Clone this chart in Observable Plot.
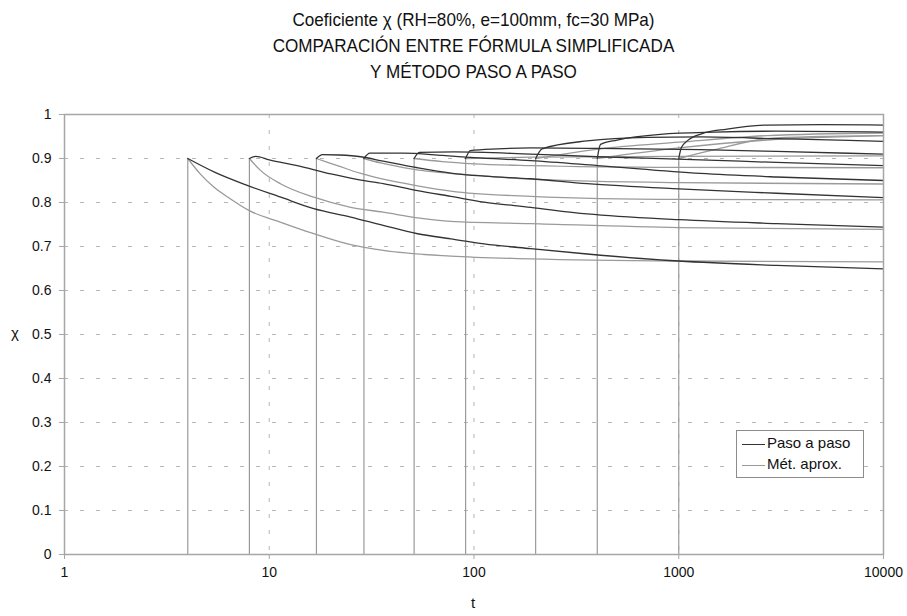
<!DOCTYPE html>
<html>
<head>
<meta charset="utf-8">
<script src="https://cdn.jsdelivr.net/npm/d3@7"></script>
<script src="https://cdn.jsdelivr.net/npm/@observablehq/plot@0.6"></script>
<style>
  body { margin: 0; background: #fff; font-family: "Liberation Sans", Arial, sans-serif; color: #111; }
  #wrap { position: relative; width: 907px; height: 616px; overflow: hidden; }
  #title { position: absolute; left: 64px; width: 819px; top: 7px; text-align: center; font-size: 19px; line-height: 26px; transform: scaleX(0.9); transform-origin: 50% 0; }
  #chart { position: absolute; left: 0; top: 90px; }
  #xlab { position: absolute; left: 463px; width: 20px; top: 594px; text-align: center; font-size: 15px; }
  #ylab { position: absolute; left: 11px; top: 324px; font-size: 15px; }
  #legend { position: absolute; left: 736px; top: 430px; width: 126px; height: 46px; border: 1px solid #8c8c8c; background: #fff; font-size: 15px; }
  .row { position: absolute; left: 5px; height: 20px; line-height: 20px; white-space: nowrap; }
  .sw { display: inline-block; width: 23px; height: 0; border-top: 1.3px solid #333; vertical-align: middle; margin-right: 2px; }
</style>
</head>
<body>
<div id="wrap">
  <div id="title">Coeficiente χ (RH=80%, e=100mm, fc=30 MPa)<br>COMPARACIÓN ENTRE FÓRMULA SIMPLIFICADA<br>Y MÉTODO PASO A PASO</div>
  <div id="chart"></div>
  <div id="xlab">t</div>
  <div id="ylab">χ</div>
  <div id="legend">
    <div class="row" style="top:2px"><span class="sw" style="border-top-color:#333"></span>Paso a paso</div>
    <div class="row" style="top:23px"><span class="sw" style="border-top-color:#9a9a9a"></span>Mét. aprox.</div>
  </div>
</div>
<script>
// Loading ages t0 (days)
const t0s = [4, 8, 17, 29, 51, 91, 200, 400, 1000];
const xTicks = [1, 10, 100, 1000, 10000];
const yTicks = [0, 0.1, 0.2, 0.3, 0.4, 0.5, 0.6, 0.7, 0.8, 0.9, 1];

// "Paso a paso" (step-by-step) curves: [t, chi]
const paso_4 = [[4,0.9],[5.4,0.869],[7.8,0.839],[11.4,0.812],[16.5,0.786],[25,0.767],[36,0.748],[53,0.729],[77,0.7175],[112,0.706],[189,0.695],[357,0.683],[1000,0.667],[3000,0.657],[10000,0.649]];
const paso_8 = [[8,0.9],[8.6,0.905],[10,0.897],[13.7,0.884],[20,0.865],[28,0.851],[36,0.843],[53,0.827],[77,0.814],[112,0.801],[189,0.789],[357,0.774],[1000,0.761],[3000,0.752],[10000,0.744]];
const paso_17 = [[17,0.9],[18.2,0.909],[22,0.908],[28,0.904],[36,0.894],[53,0.879],[77,0.867],[112,0.86],[189,0.854],[357,0.843],[1000,0.831],[3000,0.821],[10000,0.811]];
const paso_29 = [[29,0.9],[31,0.912],[45,0.912],[70,0.907],[100,0.902],[189,0.895],[400,0.884],[1276,0.866],[3000,0.858],[10000,0.85]];
const paso_51 = [[51,0.9],[54,0.914],[80,0.915],[189,0.91],[400,0.904],[1276,0.897],[3000,0.891],[10000,0.884]];
const paso_91 = [[91,0.9],[96,0.918],[130,0.922],[189,0.924],[400,0.923],[1276,0.92],[3000,0.916],[10000,0.91]];
const paso_200 = [[200,0.9],[215,0.922],[357,0.94],[700,0.948],[1276,0.949],[3000,0.945],[10000,0.939]];
const paso_400 = [[400,0.9],[415,0.932],[500,0.942],[813,0.955],[1500,0.96],[3000,0.962],[10000,0.96]];
const paso_1000 = [[1000,0.9],[1030,0.925],[1100,0.94],[1290,0.956],[1720,0.967],[2700,0.976],[5000,0.977],[10000,0.976]];

// "Mét. aprox." (simplified formula) curves: [t, chi]
const aprox_4 = [[4,0.9],[4.6,0.865],[5.36,0.835],[6.47,0.808],[7.95,0.782],[11.4,0.755],[16.5,0.729],[25,0.704],[36,0.691],[77,0.678],[189,0.672],[1000,0.667],[10000,0.665]];
const aprox_8 = [[8,0.9],[9.06,0.873],[11.4,0.842],[16.5,0.812],[25,0.789],[36,0.778],[53,0.765],[77,0.757],[189,0.752],[1000,0.743],[10000,0.739]];
const aprox_17 = [[17,0.9],[21.5,0.884],[28,0.866],[36,0.853],[53,0.838],[77,0.826],[189,0.814],[1000,0.807],[10000,0.806]];
const aprox_29 = [[29,0.9],[35,0.89],[50,0.876],[100,0.862],[189,0.853],[1000,0.845],[10000,0.842]];
const aprox_51 = [[51,0.9],[70,0.893],[100,0.888],[189,0.884],[1000,0.88],[10000,0.879]];
const aprox_91 = [[91,0.9],[189,0.903],[1000,0.905],[10000,0.906]];
const aprox_200 = [[200,0.9],[415,0.922],[1000,0.937],[2700,0.952],[10000,0.958]];
const aprox_400 = [[400,0.9],[1000,0.924],[2700,0.942],[10000,0.952]];
const aprox_1000 = [[1000,0.9],[1500,0.92],[2700,0.945],[5000,0.95],[10000,0.952]];

const pasoSeries = [paso_4, paso_8, paso_17, paso_29, paso_51, paso_91, paso_200, paso_400, paso_1000];
const aproxSeries = [aprox_4, aprox_8, aprox_17, aprox_29, aprox_51, aprox_91, aprox_200, aprox_400, aprox_1000];

const toRows = (series, name) => series.flatMap((s, i) => s.map(([t, chi]) => ({t, chi, key: name + t0s[i]})));
const pasoRows = toRows(pasoSeries, "paso");
const aproxRows = toRows(aproxSeries, "aprox");

const fmtY = d => d === 0 ? "0" : d === 1 ? "1" : d.toFixed(1);

const chart = Plot.plot({
  width: 907,
  height: 526,
  marginLeft: 64,
  marginRight: 24,
  marginTop: 24,
  marginBottom: 62,
  x: {type: "log", domain: [1, 10000]},
  y: {domain: [0, 1]},
  style: {fontFamily: "'Liberation Sans', Arial, sans-serif", fontSize: "14px", color: "#111", background: "#fff"},
  marks: [
    Plot.gridY(yTicks.filter(v => v > 0 && v < 1), {stroke: "#b5b5b5", strokeOpacity: 1, strokeDasharray: "4,12"}),
    Plot.gridX(xTicks.filter(v => v > 1 && v < 10000), {stroke: "#b5b5b5", strokeOpacity: 1, strokeDasharray: "4,12"}),
    Plot.ruleX(t0s, {y1: 0, y2: 0.9, stroke: "#9a9a9a", strokeWidth: 1.2}),
    Plot.line(aproxRows, {x: "t", y: "chi", z: "key", stroke: "#9a9a9a", strokeWidth: 1.3, curve: "monotone-x"}),
    Plot.line(pasoRows, {x: "t", y: "chi", z: "key", stroke: "#333", strokeWidth: 1.3, curve: "monotone-x"}),
    Plot.frame({stroke: "#a6a6a6", strokeWidth: 1.5}),
    Plot.axisX({ticks: xTicks, tickFormat: d => String(d), tickSize: 5, tickPadding: 8, stroke: "#a6a6a6", label: null}),
    Plot.axisY({ticks: yTicks, tickFormat: fmtY, tickSize: 5, tickPadding: 8, stroke: "#a6a6a6", label: null})
  ]
});
document.getElementById("chart").appendChild(chart);
</script>
</body>
</html>
